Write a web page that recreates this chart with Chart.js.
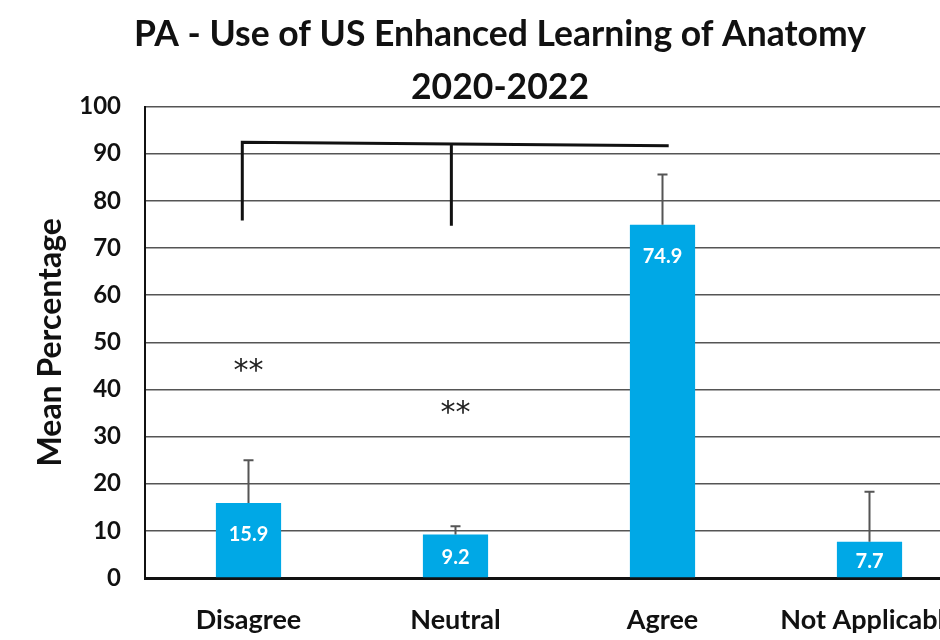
<!DOCTYPE html>
<html>
<head>
<meta charset="utf-8">
<script src="https://cdn.jsdelivr.net/npm/chart.js@4"></script>
<style>
  html, body { margin: 0; padding: 0; background: #fff; overflow: hidden; }
  #wrap { width: 1000px; height: 640px; }
</style>
</head>
<body>
<div id="wrap"><canvas id="myChart"></canvas></div>
<script>
// categories and values
const categories = ['Disagree', 'Neutral', 'Agree', 'Not Applicable'];
const meanValues = [15.9, 9.2, 74.9, 7.7];
const errorTops = [25.0, 11.0, 85.6, 18.3];
const yTicks = [0, 10, 20, 30, 40, 50, 60, 70, 80, 90, 100];

// significance marks
const starIndex = [0, 1];
const starValues = [45.2, 36.3];
// bracket: x positions (category index), y values
const bracketX = [-0.03, 0.98, 2.03];
const bracketTop = [92.4, 91.7];
const bracketDrop = [75.8, 74.7];

const blue = '#00a8e6';

// error bars, value labels, bracket and stars
const extras = {
  id: 'extras',
  afterLayout(chart) {
    // centre the title over the whole canvas, not the padded box
    const t = chart.titleBlock;
    if (t) { t.left = 0; t.right = chart.width; t.width = chart.width; }
  },
  afterDatasetsDraw(chart) {
    const ctx = chart.ctx;
    const x = chart.scales.x, y = chart.scales.y;
    const meta = chart.getDatasetMeta(0);
    ctx.save();
    // error bars
    ctx.strokeStyle = '#555';
    ctx.lineWidth = 2;
    meta.data.forEach((bar, i) => {
      const top = y.getPixelForValue(errorTops[i]);
      ctx.beginPath();
      ctx.moveTo(bar.x, bar.y);
      ctx.lineTo(bar.x, top);
      ctx.moveTo(bar.x - 5, top);
      ctx.lineTo(bar.x + 5, top);
      ctx.stroke();
    });
    // value labels
    ctx.fillStyle = '#fff';
    ctx.font = 'bold 20px Lato, sans-serif';
    ctx.textAlign = 'center';
    ctx.textBaseline = 'middle';
    meta.data.forEach((bar, i) => {
      const ly = Math.min(bar.y + 32, (bar.y + bar.base) / 2 + 2);
      ctx.fillText(meanValues[i].toFixed(1), bar.x, ly);
    });
    // bracket
    const xl = x.getPixelForValue(bracketX[0]);
    const xm = x.getPixelForValue(bracketX[1]);
    const xr = x.getPixelForValue(bracketX[2]);
    const yl = y.getPixelForValue(bracketTop[0]);
    const yr = y.getPixelForValue(bracketTop[1]);
    const ym = yl + (yr - yl) * (xm - xl) / (xr - xl);
    ctx.strokeStyle = '#111';
    ctx.lineWidth = 3;
    ctx.beginPath();
    ctx.moveTo(xl, y.getPixelForValue(bracketDrop[0]));
    ctx.lineTo(xl, yl);
    ctx.lineTo(xr, yr);
    ctx.moveTo(xm, ym);
    ctx.lineTo(xm, y.getPixelForValue(bracketDrop[1]));
    ctx.stroke();
    // stars
    ctx.fillStyle = '#222';
    ctx.font = '30px "DejaVu Sans", sans-serif';
    starIndex.forEach((ci, k) => {
      ctx.fillText('**', x.getPixelForValue(ci), y.getPixelForValue(starValues[k]) + 7);
    });
    ctx.restore();
  }
};

const config = {
  type: 'bar',
  data: {
    labels: categories,
    datasets: [{
      data: meanValues,
      backgroundColor: blue,
      borderWidth: 0,
      barPercentage: 0.315,
      categoryPercentage: 1.0
    }]
  },
  options: {
    responsive: true,
    maintainAspectRatio: false,
    animation: false,
    layout: { padding: { left: 0, right: 27, top: 0, bottom: 0 } },
    plugins: {
      legend: { display: false },
      tooltip: { enabled: false },
      title: {
        display: true,
        text: ['PA - Use of US Enhanced Learning of Anatomy', '2020-2022'],
        color: '#111',
        font: { family: 'Lato, sans-serif', size: 35.5, weight: 'bold', lineHeight: 1.5 },
        padding: { top: 8, bottom: -8 }
      }
    },
    scales: {
      x: {
        grid: { display: false, drawTicks: false },
        border: { display: true, color: '#111', width: 3 },
        ticks: {
          color: '#111',
          padding: 26,
          font: { family: 'Lato, sans-serif', size: 27, weight: 'bold' }
        },
        afterFit(scale) {
          scale.height = 62;
          scale.paddingLeft = 0;
          scale.paddingRight = 0;
        }
      },
      y: {
        min: 0,
        max: 100,
        afterBuildTicks(scale) { scale.ticks = yTicks.map(v => ({ value: v })); },
        grid: { color: '#555', lineWidth: 1.5, drawTicks: false },
        border: { display: true, color: '#111', width: 2 },
        ticks: {
          color: '#111',
          padding: 24,
          font: { family: 'Lato, sans-serif', size: 24, weight: 'bold' }
        },
        title: {
          display: true,
          text: 'Mean Percentage',
          color: '#111',
          font: { family: 'Lato, sans-serif', size: 32, weight: 'bold' },
          padding: { top: 31, bottom: 0 }
        },
        afterFit(scale) { scale.width = 145; }
      }
    }
  },
  plugins: [extras]
};

const myChart = new Chart(document.getElementById('myChart'), config);
</script>
</body>
</html>
